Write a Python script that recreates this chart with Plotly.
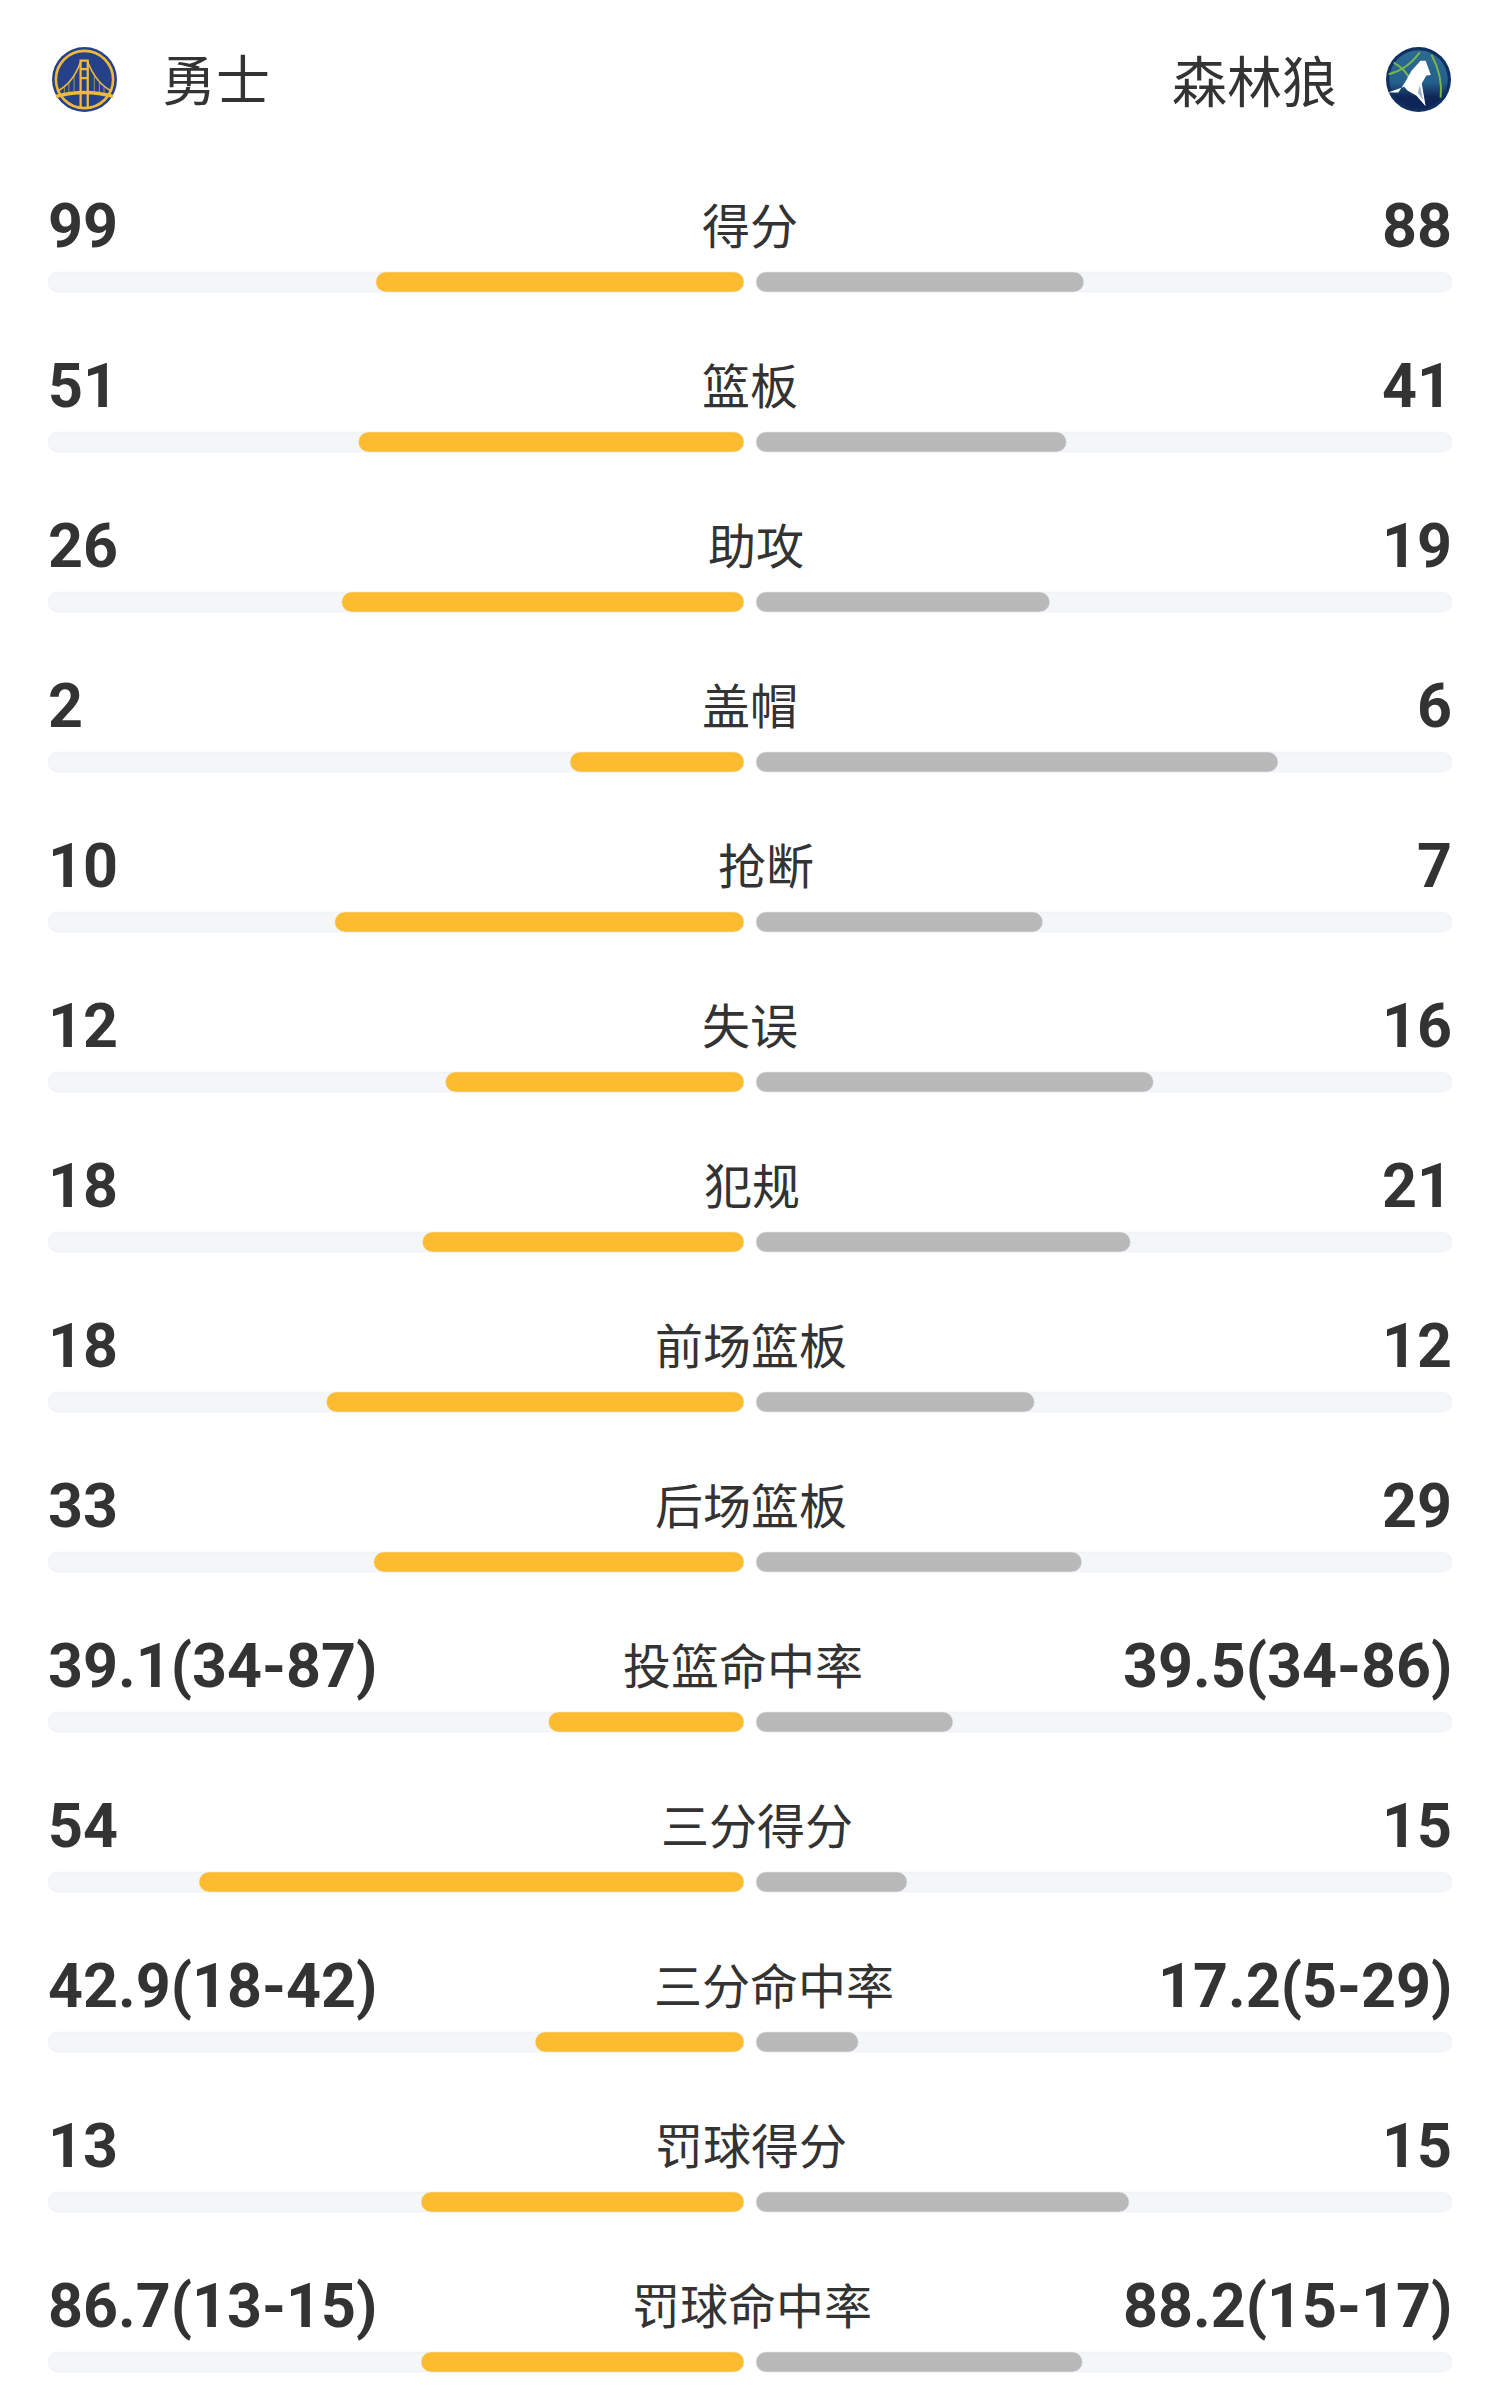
import base64

import plotly.graph_objects as go

# team header
home_team = "勇士"
away_team = "森林狼"

# one entry per row, top to bottom
stat_names = ["得分", "篮板", "助攻", "盖帽", "抢断", "失误", "犯规", "前场篮板",
              "后场篮板", "投篮命中率", "三分得分", "三分命中率", "罚球得分", "罚球命中率"]
home_labels = ["99", "51", "26", "2", "10", "12", "18", "18", "33",
               "39.1(34-87)", "54", "42.9(18-42)", "13", "86.7(13-15)"]
away_labels = ["88", "41", "19", "6", "7", "16", "21", "12", "29",
               "39.5(34-86)", "15", "17.2(5-29)", "15", "88.2(15-17)"]

# share of the track each bar fills
home_share = [0.529, 0.554, 0.578, 0.250, 0.588, 0.429, 0.462, 0.600, 0.532,
              0.281, 0.783, 0.300, 0.464, 0.464]
away_share = [0.471, 0.446, 0.422, 0.750, 0.412, 0.571, 0.538, 0.400, 0.468,
              0.283, 0.217, 0.147, 0.536, 0.469]

WIDTH = 1500
HEIGHT = 2400
ROW_STEP = 160
FIRST_ROW = 282
BAR_PX = 20

GOLD = "#fdbc2f"
GREY = "#b9b9b9"
TRACK = "#f5f6f8"
INK = "#333333"
NUM_FONT = "Roboto"
CJK_FONT = "Noto Sans CJK SC"

# left edge of each stat name, the row is spaced out like a flex row
name_left = [701, 701, 707, 701, 717, 701, 703, 654, 654, 622, 660, 653, 654, 631]

rows = list(range(len(stat_names)))
bar_width = BAR_PX / ROW_STEP
# an explicit base array makes plotly round both ends of a bar
zero_base = [0] * len(rows)

WARRIORS_SVG = """<svg xmlns="http://www.w3.org/2000/svg" viewBox="0 0 100 100">
<circle cx="50" cy="50" r="50" fill="#25418a"/>
<circle cx="50" cy="50" r="44" fill="none" stroke="#f0b93a" stroke-width="4"/>
<path d="M44 94V21h11v73M44 34h11M44 48h11" fill="none" stroke="#f0b93a" stroke-width="3.5"/>
<path d="M8 68Q32 56 44 23M92 68Q68 56 55 23" fill="none" stroke="#f0b93a" stroke-width="2.5"/>
<path d="M34 68V44M26 70V54M19 72V62M65 68V44M73 70V54M80 72V62" stroke="#f0b93a" stroke-width="1"/>
<path d="M6 76Q50 64 94 76" fill="none" stroke="#f0b93a" stroke-width="5.5"/>
</svg>"""

WOLVES_SVG = """<svg xmlns="http://www.w3.org/2000/svg" viewBox="0 0 100 100">
<defs><linearGradient id="g" x1="0" y1="0" x2="0" y2="1">
<stop offset="0" stop-color="#2c6a94"/><stop offset="0.55" stop-color="#24608c"/>
<stop offset="0.8" stop-color="#0f2557"/></linearGradient></defs>
<circle cx="50" cy="50" r="50" fill="#103061"/>
<circle cx="50" cy="50" r="45" fill="url(#g)"/>
<path d="M4 42Q34 34 52 8M12 24Q30 34 38 52M70 12Q88 46 84 78"
 fill="none" stroke="#7ab648" stroke-width="3"/>
<path d="M53 21L61 21L69 43L62 44L55 56L61 91L47 75L33 67L28 61L3 70L19 70L30 53L39 37Z" fill="#ffffff"/>
<path d="M52 58L49 70L57 82Z" fill="#9fb3c8"/>
</svg>"""


def svg_source(svg):
    encoded = base64.b64encode(svg.encode("utf-8")).decode("ascii")
    return "data:image/svg+xml;base64," + encoded


def px_x(x):
    return x / WIDTH


def px_y(y):
    return 1 - y / HEIGHT


fig = go.Figure()

# tracks go first so the coloured bars sit on top of them
for xaxis, share, color, name in [("x", home_share, GOLD, home_team),
                                  ("x2", away_share, GREY, away_team)]:
    fig.add_trace(go.Bar(y=rows, x=[1] * len(rows), base=zero_base, orientation="h",
                         width=bar_width, marker_color=TRACK, xaxis=xaxis, yaxis="y",
                         hoverinfo="skip"))
    fig.add_trace(go.Bar(y=rows, x=share, base=zero_base, orientation="h",
                         width=bar_width, marker_color=color, xaxis=xaxis, yaxis="y",
                         name=name))

annotations = []
for i in rows:
    row_y = FIRST_ROW + i * ROW_STEP
    annotations.append(dict(text=home_labels[i], x=px_x(47), y=px_y(row_y - 56), xanchor="left",
                            font=dict(family=NUM_FONT, size=61, color=INK, weight=700)))
    annotations.append(dict(text=away_labels[i], x=px_x(1453), y=px_y(row_y - 56), xanchor="right",
                            font=dict(family=NUM_FONT, size=61, color=INK, weight=700)))
    annotations.append(dict(text=stat_names[i], x=px_x(name_left[i]), y=px_y(row_y - 59), xanchor="left",
                            font=dict(family=CJK_FONT, size=48, color=INK)))

annotations.append(dict(text=home_team, x=px_x(161), y=px_y(78), xanchor="left",
                        font=dict(family=CJK_FONT, size=54, color=INK)))
annotations.append(dict(text=away_team, x=px_x(1338), y=px_y(78), xanchor="right",
                        font=dict(family=CJK_FONT, size=55, color=INK)))
for a in annotations:
    a.update(xref="paper", yref="paper", yanchor="middle", showarrow=False, borderpad=0)

images = [
    dict(source=svg_source(WARRIORS_SVG), x=px_x(52), y=px_y(47), sizex=px_x(65), sizey=65 / HEIGHT),
    dict(source=svg_source(WOLVES_SVG), x=px_x(1386), y=px_y(47), sizex=px_x(65), sizey=65 / HEIGHT),
]
for im in images:
    im.update(xref="paper", yref="paper", xanchor="left", yanchor="top", sizing="stretch", layer="above")

fig.update_layout(
    width=WIDTH,
    height=HEIGHT,
    margin=dict(l=0, r=0, t=0, b=0),
    paper_bgcolor="#ffffff",
    plot_bgcolor="#ffffff",
    barmode="overlay",
    barcornerradius=BAR_PX / 2,
    showlegend=False,
    annotations=annotations,
    images=images,
    # home bars grow leftwards from the centre gap
    xaxis=dict(domain=[px_x(48), px_x(744)], range=[1, 0], visible=False, fixedrange=True),
    xaxis2=dict(domain=[px_x(756), px_x(1452)], range=[0, 1], visible=False, fixedrange=True),
    yaxis=dict(domain=[0, 1], range=[(HEIGHT - FIRST_ROW) / ROW_STEP, -FIRST_ROW / ROW_STEP],
               visible=False, fixedrange=True),
)

fig.write_html("out.html", config={"displayModeBar": False},
               post_script="document.body.style.margin = '0';")
